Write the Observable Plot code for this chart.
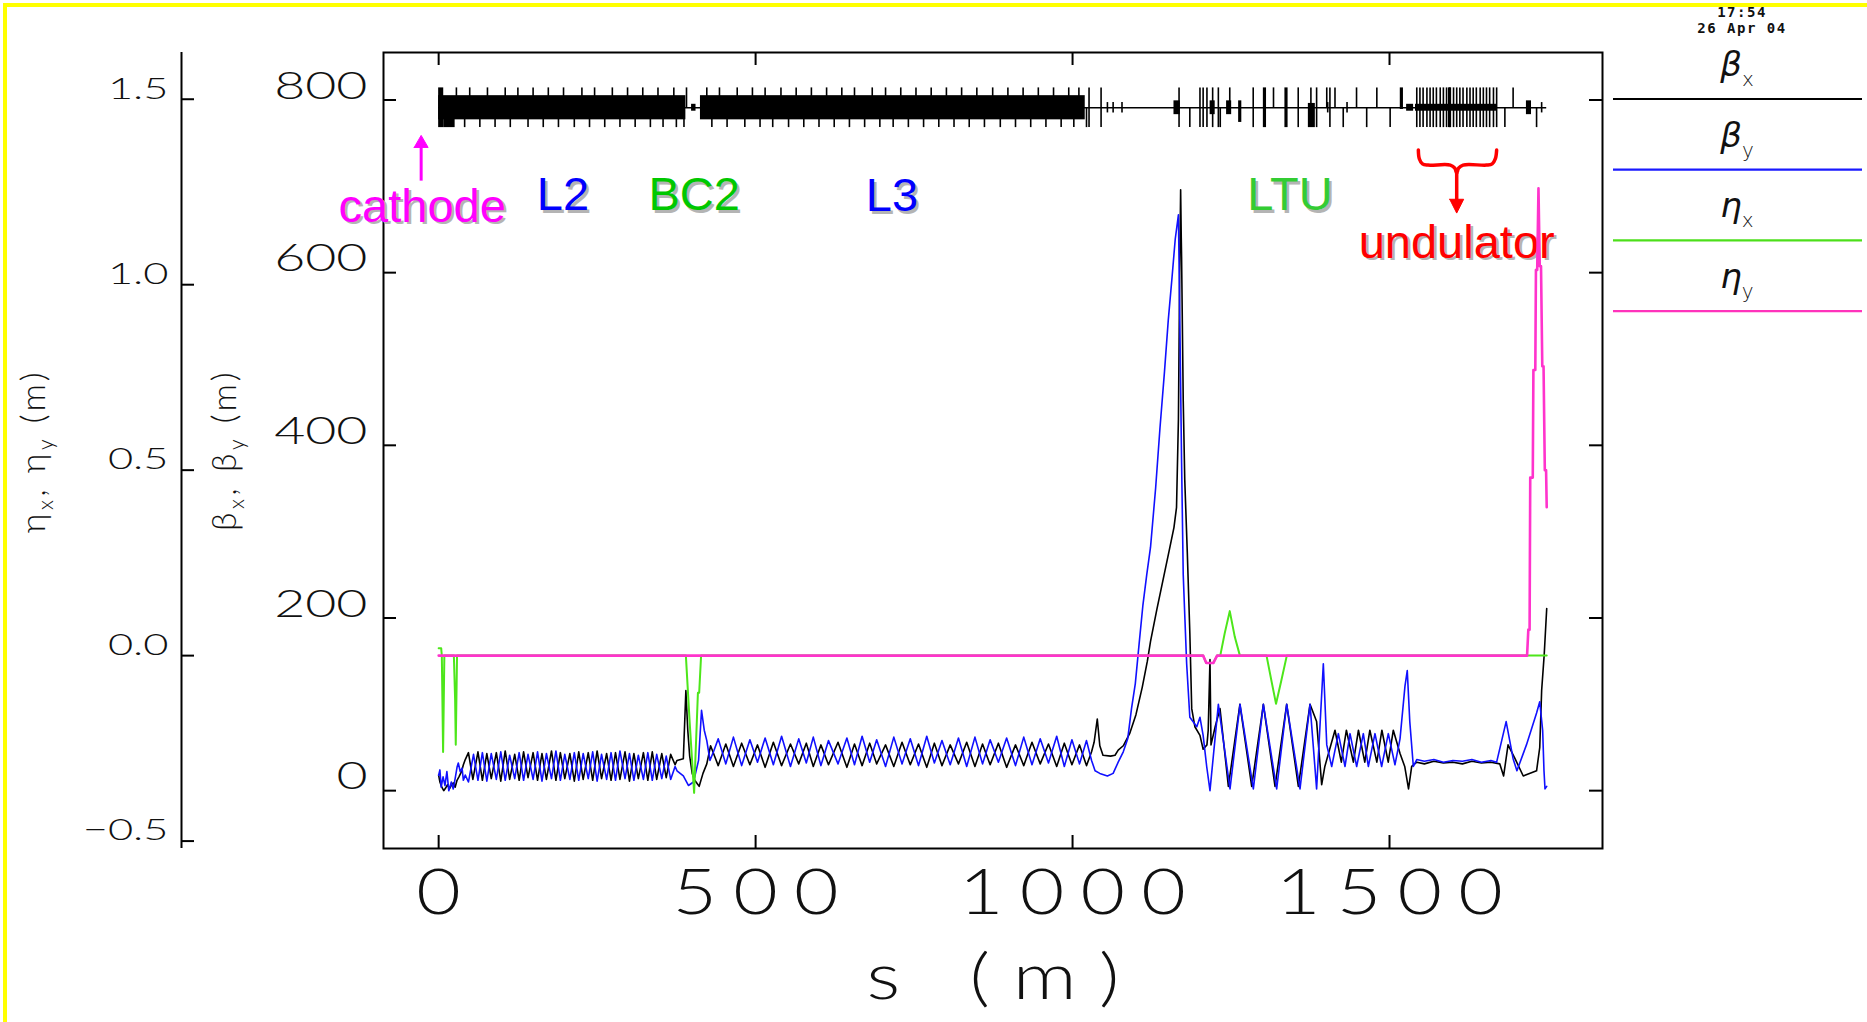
<!DOCTYPE html>
<html><head><meta charset="utf-8">
<script src="https://cdn.jsdelivr.net/npm/d3@7"></script>
<script src="https://cdn.jsdelivr.net/npm/@observablehq/plot@0.6"></script>
<style>
html,body{margin:0;padding:0;background:#fff;}
#wrap{position:relative;width:1867px;height:1022px;overflow:hidden;background:#fff;}
#border{position:absolute;left:3px;top:3px;width:1880px;height:1040px;border-top:4px solid #ffff00;border-left:4px solid #ffff00;pointer-events:none;}
</style></head><body><div id="wrap"></div><script>
// ---------------- data ----------------
const sTicks = [0, 500, 1000, 1500];
const betaTicks = [0, 200, 400, 600, 800];
const etaTicks = [-0.5, 0, 0.5, 1.0, 1.5];

// beta_x (black): [s (m), beta (m)]
const betaX = [[0,18],[2,10],[5,4],[8,0],[11,3],[14,7],[17,2],[20,6],[23,9],[26,4],[29,12],[32,16],[36,22],[39,30],[42,36],
[47,44],[54,13],[62,45],[69,12],[76,43],[83,14],[91,44],[98,11],[105,46],[112,13],[120,42],[127,12],[134,45],[141,15],[149,44],[156,12],[163,43],[170,13],[178,46],[185,12],[192,44],[199,14],[207,43],[214,11],[221,45],[228,13],[236,44],[243,12],[250,46],[257,14],[265,43],[272,12],[279,44],[286,13],[294,45],[301,11],[308,43],[315,14],[323,44],[330,12],[337,45],[344,13],[352,43],[359,15],[366,42],
[373,30],[376,35],[386,37],[390,116],[393,70],[396,40],[400,20],[404,12],[408,8],[411,5],[417,20],[423,31],[429,52],
[441,29],[453,54],[465,28],[478,55],[491,30],[503,53],[515,27],[528,56],[541,29],[555,54],[568,31],[580,55],[591,28],[603,53],[615,30],[630,56],[644,27],[656,54],[668,29],[680,55],[691,31],[705,53],[718,28],[731,56],[744,30],[757,54],[770,27],[782,55],[794,29],[807,53],[820,31],[833,56],[846,28],[858,54],[870,30],[883,55],[896,27],[910,53],[923,29],[936,56],[949,31],[962,54],[975,28],[987,55],[999,30],[1011,53],[1022,29],
[1030,45],[1034,56],[1039,83],[1043,52],[1048,41],[1060,40],[1067,41],[1072,47],
[1080,52],[1090,66],[1100,88],[1110,120],[1118,150],[1123,173],[1133,210],[1143,245],[1153,280],[1160,305],[1164,328],[1167,430],[1169,600],[1170.5,696],[1171.5,640],[1172,618],[1174.6,452],[1177,360],[1181,276],[1185,183],[1188,95],[1193,74],[1201,64],[1206,48],[1212,53],[1214,70],[1216.8,152],[1218.4,53],[1225,74],[1232.6,95],[1245.8,5],[1264,100],[1282.6,5],[1301,100],[1319.4,5],[1337.8,100],[1356.2,5],[1374.6,100],[1385,80],[1393,7],[1398,28],
[1414,70],[1424,33],[1432,70],[1443,33],[1451,70],[1461,33],[1469,70],[1480,33],[1488,70],[1498,33],[1506,70],[1516.6,43],[1524,28],[1530,2],[1535,28],[1543,33],
[1555,31],[1570,34],[1585,32],[1600,33],[1615,31],[1630,34],[1645,32],[1660,33],[1674,31],[1680,17],[1687,53],[1698,37],[1711,17],[1732,23],[1737,50],[1740,116],[1744,157],[1748,211]];

// beta_y (blue)
const betaY = [[0,18],[2,24],[4,4],[7,16],[10,6],[13,22],[16,0],[20,10],[23,2],[26,14],[29,27],[31,32],[34,22],[37,26],[39,12],[42,18],[47,10],
[55,42],[62,12],[69,44],[76,11],[83,43],[91,13],[98,45],[105,12],[112,41],[120,14],[127,44],[134,12],[141,42],[149,13],[156,45],[163,11],[170,43],[178,14],[185,46],[192,12],[199,42],[207,13],[214,44],[221,12],[228,43],[236,14],[243,45],[250,11],[257,42],[265,13],[272,44],[279,12],[286,46],[294,14],[301,43],[308,12],[315,41],[323,13],[330,44],[337,12],[344,42],[352,14],[359,40],[366,13],
[373,28],[376,23],[386,17],[394,6],[402,10],[410,35],[414.7,93],[419,70],[423,58],[428,35],[434,46],
[441,60],[453,31],[465,62],[478,29],[491,59],[503,33],[515,61],[528,30],[541,63],[555,28],[568,60],[580,32],[591,62],[603,29],[615,58],[630,31],[644,61],[656,30],[668,63],[680,33],[691,59],[705,28],[718,62],[731,31],[744,60],[757,29],[770,63],[782,32],[794,58],[807,30],[820,61],[833,28],[846,62],[858,31],[870,59],[883,33],[896,61],[910,29],[923,62],[936,30],[949,60],[962,32],[975,63],[987,28],[999,59],[1011,31],[1022,58],
[1030,35],[1035.5,23],[1043,20],[1055,17],[1064,20],[1072,33],
[1080,45],[1087,60],[1093,95],[1099,124],[1105,170],[1111,215],[1117,250],[1123,282],[1131,350],[1138,421],[1145,485],[1151,545],[1157,595],[1162,639],[1167,667],[1169.4,535],[1172,380],[1174.6,250],[1177.3,198],[1180,147],[1185,85],[1196,74],[1201,85],[1206,64],[1211.6,28],[1216.8,0],[1230,100],[1248.4,2],[1264.2,100],[1285.2,2],[1301,100],[1322,2],[1337.8,100],[1358.8,2],[1374.6,100],[1385,2],[1395.6,147],[1401,53],
[1408.8,28],[1419.3,66],[1429.8,28],[1437.7,66],[1448.2,28],[1458.7,66],[1466.6,28],[1477.1,66],[1487.6,28],[1498.1,66],[1508.6,30],[1516.6,60],[1524.4,121],[1528,139],[1532,80],[1537.6,28],[1543,36],
[1555,34],[1570,36],[1585,33],[1600,35],[1615,34],[1630,36],[1645,33],[1660,35],[1669,33],[1684,80],[1695,37],[1701,23],[1716,53],[1732,90],[1737,103],[1741.6,70],[1743.7,23],[1745.3,2],[1748,5]];

// eta_x (green): [s, eta (m)]
const etaX = [[0,0.02],[4,0.02],[5,0],[7,-0.26],[9,0],[24,0],[26,-0.12],[27,-0.24],[29,0],[390,0],[396,-0.18],[403,-0.37],[409,-0.1],[411,-0.1],[414,0],[1206,0],[1211,-0.02],[1222,-0.02],[1228,0],[1233,0],[1240,0.06],[1248,0.12],[1256,0.05],[1264,0],[1306,0],[1314,-0.07],[1321,-0.13],[1329,-0.07],[1338,0],[1748,0]];
// eta_y (magenta)
const etaY = [[0,0],[1206,0],[1211,-0.02],[1222,-0.02],[1228,0],[1717,0],[1719,0.07],[1721,0.07],[1722,0.48],[1726,0.48],[1727,0.77],[1730,0.77],[1731,1.04],[1733,1.04],[1735,1.26],[1737,1.05],[1739,1.05],[1741,0.78],[1743,0.78],[1745,0.5],[1747,0.5],[1748,0.4]];

// lattice (s positions of elements)
const rfSections = [[0,390],[413,1020]];
const quadF = [28,49,77,105,125,149,173,197,226,246,274,298,322,346,371,391,423,443,471,495,515,540,564,588,612,636,656,684,705,729,753,777,801,825,849,874,898,922,946,970,994,1010];
const quadD = [41,65,89,113,141,165,189,214,238,262,286,310,334,354,375,387,431,455,483,507,527,552,576,600,624,648,672,696,717,741,765,789,813,837,861,886,910,934,958,982,1002,1022];
const tallLines = [1026,1045,1168,1201,1206,1212,1221,1230,1285,1356,1376,1385,1406,1543,1548,1553,1559,1564,1569,1574,1580,1585,1590,1595,1601,1606,1611,1616,1622,1627,1632,1637,1643,1648,1653,1658,1664,1669];
const upLines = [1248,1317,1401,1414,1448,1480,1695];
const downLines = [1185,1233,1427,1464,1501,1682,1732];
const smallLines = [1055,1064,1078,1402.5,1433,1740];
const boxes = [[0,8,"tall"],[8,26,"lowtall"],[1301,1306,"tall"],[1335,1340,"tall"],[1593,1598,"tall"],[1160,1170,"mid"],[1217,1225,"mid"],[1243,1251,"mid"],[1716,1724,"mid"],[1262,1267,"low"],[1372,1383,"lowtall"],[1517,1522,"upbox"],[1527,1538,"thin"],[1541,1670,"thin"],[399,406,"thin"]];

// annotations (s, beta anchor)
const annotations = [
  {label:"cathode", s:-26, beta:659},
  {label:"L2", s:196, beta:672},
  {label:"BC2", s:403, beta:672},
  {label:"L3", s:715, beta:671},
  {label:"LTU", s:1343, beta:672},
  {label:"undulator", s:1606, beta:617}
];
const cathodeArrow = {s:-27.6, from:706, to:747, tip:759};
const braceCurve = [[1545.5,742],[1547,732],[1552,726],[1561,724.6],[1596,724.6],[1603,721],[1606,715],[1609,721],[1616,724.6],[1653,724.6],[1662,726],[1667,732],[1669,742]];
const braceArrow = {s:1606, from:715, to:683, tip:669};

const legendItems = [["β","x","#000000"],["β","y","#1a1aff"],["η","x","#4ddf1a"],["η","y","#ff33bb"]];

// ---------------- layout ----------------
const W = 1867, H = 1022;
const FRAME_L = 383, FRAME_R = 1602, FRAME_T = 52, FRAME_B = 848, ETA_AXIS_X = 181;
const S_MIN = -87, S_MAX = 1836;
const BETA_MIN = -67, BETA_MAX = 855;
const ETA_MIN = -0.52, ETA_MAX = 1.626;
const LAT = 791;           // lattice baseline (beta units)
const PX_PER_M = (FRAME_R - FRAME_L) / (S_MAX - S_MIN);
const S_ETA_MIN = S_MIN - (FRAME_L - ETA_AXIS_X) / PX_PER_M;
const TICK = 13;
const NUM_FONT = "Lato, 'DejaVu Sans', sans-serif";
const ANN_FONT = "'Liberation Sans', Arial, sans-serif";
const C_BX = "#000000", C_BY = "#1010ff", C_EX = "#4de61a", C_EY = "#ff33cc";

const boxKind = {tall:[-23,23], lowtall:[-23,5], mid:[-8,8], low:[-17,8], upbox:[-2,23], thin:[-4,4]};
const sStart = betaX[0][0], sEnd = betaX[betaX.length-1][0];
const latStroke = {stroke:"black", strokeWidth:1.6};

const annColor = {cathode:"#ff00ff", L2:"#0000ff", BC2:"#00c800", L3:"#0000ff", LTU:"#33cc33", undulator:"#ff0000"};

function tri(s, tipBeta, baseBeta, halfW) {
  return [[s - halfW, baseBeta], [s, tipBeta], [s + halfW, baseBeta], [s - halfW, baseBeta]];
}

const betaPlot = Plot.plot({
  width: W, height: H,
  marginLeft: FRAME_L, marginRight: W - FRAME_R, marginTop: FRAME_T, marginBottom: H - FRAME_B,
  x: {domain: [S_MIN, S_MAX]},
  y: {domain: [BETA_MIN, BETA_MAX]},
  style: {position:"absolute", left:"0px", top:"0px", background:"transparent", overflow:"visible"},
  marks: [
    Plot.frame({stroke:"black", strokeWidth:2}),
    Plot.axisY(betaTicks, {anchor:"left", tickSize:0, tickPadding:16, dy:-13, fontSize:37, fontWeight:300, fontFamily:NUM_FONT, fill:"#111", label:null, tickFormat:d=>String(d)}),
    Plot.ruleY(betaTicks, {insetRight: FRAME_R - FRAME_L - TICK, stroke:"black", strokeWidth:2}),
    Plot.ruleY(betaTicks, {insetLeft: FRAME_R - FRAME_L - TICK, stroke:"black", strokeWidth:2}),
    Plot.axisX(sTicks, {anchor:"bottom", tickSize:0, tickPadding:20, dx:8, fontSize:64, fontWeight:300, fontFamily:NUM_FONT, fill:"#111", label:null, tickFormat:d=>String(d)}),
    Plot.ruleX(sTicks, {insetBottom: FRAME_B - FRAME_T - TICK, stroke:"black", strokeWidth:2}),
    Plot.ruleX(sTicks, {insetTop: FRAME_B - FRAME_T - TICK, stroke:"black", strokeWidth:2}),
    Plot.text(["s (m)"], {frameAnchor:"bottom", dy:150, lineAnchor:"bottom", fontSize:64, fontWeight:300, fontFamily:NUM_FONT, fill:"#111"}),
    // lattice
    Plot.ruleY([LAT], {x1: sStart, x2: sEnd, ...latStroke}),
    Plot.rect(rfSections, {x1:d=>d[0], x2:d=>d[1], y1:LAT-14, y2:LAT+14, fill:"black"}),
    Plot.rect(boxes, {x1:d=>d[0], x2:d=>d[1], y1:d=>LAT+boxKind[d[2]][0], y2:d=>LAT+boxKind[d[2]][1], fill:"black"}),
    Plot.ruleX(quadF, {y1:LAT, y2:LAT+23, ...latStroke}),
    Plot.ruleX(quadD, {y1:LAT-23, y2:LAT, ...latStroke}),
    Plot.ruleX(tallLines, {y1:LAT-23, y2:LAT+23, ...latStroke}),
    Plot.ruleX(upLines, {y1:LAT, y2:LAT+23, ...latStroke}),
    Plot.ruleX(downLines, {y1:LAT-23, y2:LAT, ...latStroke}),
    Plot.ruleX(smallLines, {y1:LAT-6, y2:LAT+6, ...latStroke}),
    // optics
    Plot.line(betaX, {x:d=>d[0], y:d=>d[1], stroke:C_BX, strokeWidth:1.6}),
    Plot.line(betaY, {x:d=>d[0], y:d=>d[1], stroke:C_BY, strokeWidth:1.6}),
    // annotations
    ...annotations.flatMap(a => [
      Plot.text([a], {x:"s", y:"beta", text:"label", dx:2.5, dy:2.5, lineAnchor:"bottom", fontSize:47, fontFamily:ANN_FONT, fill:"#b4b4b4"}),
      Plot.text([a], {x:"s", y:"beta", text:"label", lineAnchor:"bottom", fontSize:47, fontFamily:ANN_FONT, fill:annColor[a.label]})
    ]),
    Plot.ruleX([cathodeArrow.s], {y1:cathodeArrow.from, y2:cathodeArrow.to, stroke:"#ff00ff", strokeWidth:3}),
    Plot.line(tri(cathodeArrow.s, cathodeArrow.tip, cathodeArrow.to - 2, 11), {x:d=>d[0], y:d=>d[1], fill:"#ff00ff", stroke:"#ff00ff", strokeWidth:1}),
    Plot.line(braceCurve, {x:d=>d[0], y:d=>d[1], stroke:"#ff0000", strokeWidth:3.5, curve:"catmull-rom"}),
    Plot.ruleX([braceArrow.s], {y1:braceArrow.from, y2:braceArrow.to, stroke:"#ff0000", strokeWidth:3.5}),
    Plot.line(tri(braceArrow.s, braceArrow.tip, braceArrow.to + 2, 11), {x:d=>d[0], y:d=>d[1], fill:"#ff0000", stroke:"#ff0000", strokeWidth:1})
  ]
});

const etaPlot = Plot.plot({
  width: W, height: H,
  marginLeft: ETA_AXIS_X, marginRight: W - FRAME_R, marginTop: FRAME_T, marginBottom: H - FRAME_B,
  x: {domain: [S_ETA_MIN, S_MAX], axis: null},
  y: {domain: [ETA_MIN, ETA_MAX]},
  style: {position:"absolute", left:"0px", top:"0px", background:"transparent", overflow:"visible"},
  marks: [
    Plot.ruleX([S_ETA_MIN], {stroke:"black", strokeWidth:2}),
    Plot.ruleY(etaTicks, {insetRight: FRAME_R - ETA_AXIS_X - TICK, stroke:"black", strokeWidth:2}),
    Plot.axisY(etaTicks, {anchor:"left", tickSize:0, tickPadding:13, dy:-10, fontSize:29, fontWeight:300, fontFamily:NUM_FONT, fill:"#111", label:null,
      tickFormat:d => (d < 0 ? "\u2212" : "") + Math.abs(d).toFixed(1)}),
    Plot.line(etaX, {x:d=>d[0], y:d=>d[1], stroke:C_EX, strokeWidth:2}),
    Plot.line(etaY, {x:d=>d[0], y:d=>d[1], stroke:C_EY, strokeWidth:2.6})
  ]
});

const wrap = document.getElementById("wrap");
wrap.appendChild(betaPlot);
wrap.appendChild(etaPlot);

// wide plotter-style digits: wrap each label in a group that stretches it
// horizontally about its own anchor point
function stretchX(sel, k, spacing) {
  sel.each(function() {
    let X = 0;
    const tl = this.transform && this.transform.baseVal;
    if (tl && tl.numberOfItems) X += tl.consolidate().matrix.e;
    if (this.x && this.x.baseVal && this.x.baseVal.numberOfItems) X += this.x.baseVal.getItem(0).value;
    const g = document.createElementNS("http://www.w3.org/2000/svg", "g");
    g.setAttribute("transform", `translate(${X},0) scale(${k},1) translate(${-X},0)`);
    this.parentNode.insertBefore(g, this);
    g.appendChild(this);
    if (spacing) this.setAttribute("letter-spacing", spacing);
  });
}
stretchX(d3.select(betaPlot).selectAll('g[aria-label="x-axis tick label"] text'), 1.2, 13.5);
stretchX(d3.select(betaPlot).selectAll('g[aria-label="y-axis tick label"] text'), 1.45, 0);
stretchX(d3.select(etaPlot).selectAll('g[aria-label="y-axis tick label"] text'), 1.5, 0);
const sLabel = d3.select(betaPlot).selectAll("text").filter(function(){ return this.textContent === "s (m)"; })
  .attr("textLength", 204).attr("lengthAdjust", "spacing");
stretchX(sLabel, 1.24, 0);

// rich text (subscripts) for axis titles and legend
function richText(g, x, y, parts, o) {
  const t = g.append("text")
    .attr("transform", `translate(${x},${y})` + (o.rotate ? ` rotate(${o.rotate})` : ""))
    .attr("text-anchor", o.anchor || "middle")
    .attr("font-family", o.family).attr("font-size", o.size).attr("font-weight", o.weight || 300)
    .attr("font-style", o.style || "normal")
    .attr("fill", o.fill || "#111").attr("letter-spacing", o.spacing || 0);
  let shift = 0;
  for (const [str, sub] of parts) {
    const ts = t.append("tspan").text(str);
    const target = sub ? o.subShift : 0;
    if (target !== shift) ts.attr("dy", target - shift);
    if (sub) ts.attr("font-size", o.subSize).attr("font-style", "normal");
    shift = target;
  }
  return t;
}
const over = d3.select(etaPlot).append("g");
const titleOpts = {family:NUM_FONT, size:34, subSize:21, subShift:8, rotate:-90, spacing:3.5, weight:300};
richText(over, 45, 451, [["η",false],["x",true],[", ",false],["η",false],["y",true],[" (m)",false]], titleOpts);
richText(over, 236, 450, [["β",false],["x",true],[", ",false],["β",false],["y",true],[" (m)",false]], titleOpts);

// legend
const legX1 = 1613, legX2 = 1862, legY0 = 99, legStep = 70.7;
legendItems.forEach(([g, sub, color], i) => {
  const y = legY0 + i * legStep;
  over.append("line").attr("x1", legX1).attr("x2", legX2).attr("y1", y).attr("y2", y)
    .attr("stroke", color).attr("stroke-width", 2.2);
  richText(over, 1737, y - 23, [[g,false],[sub,true]], {family:"'DejaVu Sans', sans-serif", size:34, subSize:20, subShift:10, weight:300, style:"italic", fill:"#111"});
});

// timestamp
over.append("text").attr("x", 1742).attr("y", 17).attr("text-anchor","middle")
  .attr("font-family","'DejaVu Sans Mono', monospace").attr("font-size", 14).attr("font-weight","bold").attr("letter-spacing", 1.5).attr("fill","#111").text("17:54");
over.append("text").attr("x", 1742).attr("y", 33).attr("text-anchor","middle")
  .attr("font-family","'DejaVu Sans Mono', monospace").attr("font-size", 14).attr("font-weight","bold").attr("letter-spacing", 1.5).attr("fill","#111").text("26 Apr 04");

const border = document.createElement("div");
border.id = "border";
wrap.appendChild(border);
</script></body></html>
